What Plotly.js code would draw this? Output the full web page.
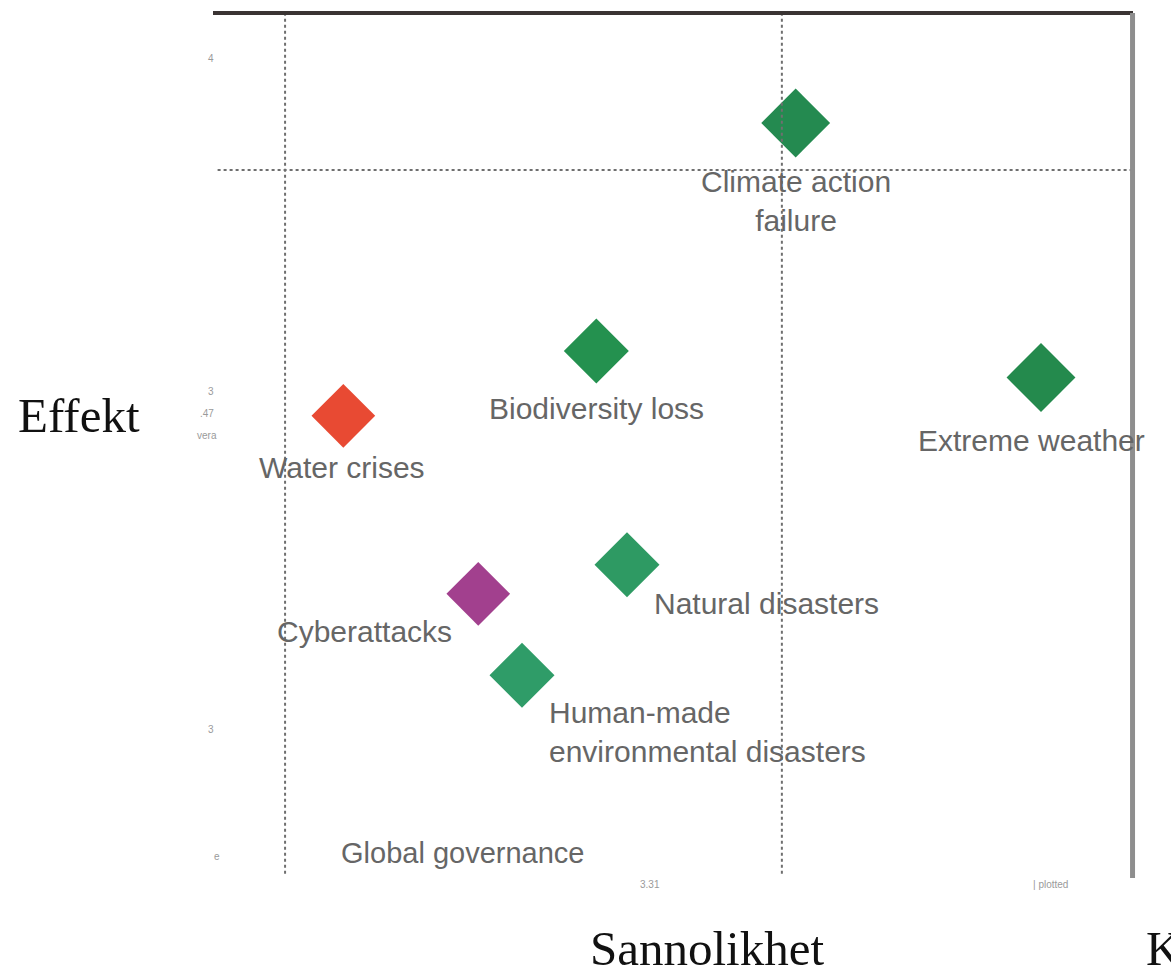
<!DOCTYPE html>
<html>
<head>
<meta charset="utf-8">
<script src="https://cdn.plot.ly/plotly-3.0.1.min.js"></script>
<style>
  html, body { margin: 0; padding: 0; background: #ffffff; }
  #chart { width: 1171px; height: 971px; }
</style>
</head>
<body>
<div id="chart"></div>
<script>
// ---- Data ----
const risks = [
  "Climate action failure",
  "Biodiversity loss",
  "Extreme weather",
  "Water crises",
  "Natural disasters",
  "Cyberattacks",
  "Human-made environmental disasters"
];
const likelihood = [3.76, 3.50, 4.08, 3.17, 3.54, 3.346, 3.403];
const impact     = [4.022, 3.653, 3.61, 3.548, 3.307, 3.26, 3.128];
const riskLabels = [
  "Climate action<br>failure",
  "Biodiversity loss",
  "Extreme weather",
  "Water crises",
  "Natural disasters",
  "Cyberattacks",
  "Human-made<br>environmental disasters"
];
const riskColors = ["#248a50", "#24914f", "#248a4d", "#e84a33", "#2e9a63", "#a2408e", "#2f9c68"];

const extraLabel = "Global governance";
const extraLikelihood = 3.167;
const extraImpact = 2.84;

const likelihoodAverages = [3.094, 3.742];
const impactAverage = 3.946;

// label placement (pixel offsets from marker centre)
const labelPlace = [
  {xa: "center", dx: 0,    dy: -78},
  {xa: "center", dx: 0,    dy: -58},
  {xa: "left",   dx: -125, dy: -63},
  {xa: "center", dx: -1,   dy: -52},
  {xa: "left",   dx: 25,   dy: -39},
  {xa: "center", dx: -114, dy: -38},
  {xa: "left",   dx: 25,   dy: -57}
];

const sizes = [53, 50, 53, 49, 50, 49, 50];

const trace = {
  type: "scatter",
  mode: "markers",
  x: likelihood,
  y: impact,
  text: risks,
  hoverinfo: "text",
  marker: { symbol: "diamond", size: sizes, color: riskColors, opacity: 1, line: { width: 0 } },
  opacity: 1,
  showlegend: false
};

const labelFont = { family: "Liberation Sans, Arial, sans-serif", size: 30, color: "#666666" };
const fragFont = { family: "Liberation Sans, Arial, sans-serif", size: 10, color: "#9a9a9a" };

const annotations = riskLabels.map((t, i) => ({
  x: likelihood[i], y: impact[i], xref: "x", yref: "y",
  text: t, showarrow: false,
  xanchor: labelPlace[i].xa, yanchor: "middle",
  xshift: labelPlace[i].dx, yshift: labelPlace[i].dy,
  font: labelFont, align: labelPlace[i].xa === "left" ? "left" : "center"
}));

annotations.push({
  x: extraLikelihood, y: extraImpact, xref: "x", yref: "y",
  text: extraLabel, showarrow: false, xanchor: "left", yanchor: "middle",
  xshift: -2,
  font: { family: labelFont.family, size: 29, color: labelFont.color }
});

// axis titles (horizontal, serif)
const titleFont = { family: "Liberation Serif, Times New Roman, serif", size: 49, color: "#111111" };
annotations.push({
  xref: "paper", yref: "paper", x: -0.1457, y: 0.535, xanchor: "center", yanchor: "middle",
  text: "Effekt", showarrow: false, font: titleFont
});
annotations.push({
  xref: "paper", yref: "paper", x: 0.537, y: -0.081, xanchor: "center", yanchor: "middle",
  text: "Sannolikhet", showarrow: false, font: titleFont, borderpad: 0
});
annotations.push({
  xref: "paper", yref: "paper", x: 1.013, y: -0.081, xanchor: "left", yanchor: "middle",
  text: "K", showarrow: false, font: titleFont, borderpad: 0
});

// faint fragments of the source graphic
const fragments = [
  {x: -0.002, y: 0.947, t: "4"},
  {x: -0.002, y: 0.563, t: "3"},
  {x: -0.006, y: 0.537, t: ".47"},
  {x: -0.006, y: 0.511, t: "vera"},
  {x: -0.002, y: 0.172, t: "3"},
  {x: 0.004, y: 0.025, t: "e"},
  {x: 0.475, y: -0.008, t: "3.31"},
  {x: 0.91, y: -0.008, t: "| plotted"}
];
fragments.forEach(f => annotations.push({
  xref: "paper", yref: "paper", x: f.x, y: f.y, xanchor: "center", yanchor: "middle",
  text: f.t, showarrow: false, font: fragFont
}));

const shapes = [];
likelihoodAverages.forEach(v => shapes.push({
  type: "line", xref: "x", yref: "paper", x0: v, x1: v, y0: 0.005, y1: 1,
  line: { color: "#6f6f6f", width: 2, dash: "dot" }
}));
shapes.push({
  type: "line", xref: "paper", yref: "y", x0: 0.005, x1: 1, y0: impactAverage, y1: impactAverage,
  line: { color: "#6f6f6f", width: 2, dash: "dot" }
});
// frame: thick top line and grey right edge
shapes.push({
  type: "line", xref: "paper", yref: "paper", x0: 0, x1: 1, y0: 1, y1: 1,
  line: { color: "#3a3433", width: 4 }
});
shapes.push({
  type: "line", xref: "paper", yref: "paper", x0: 0.9995, x1: 0.9995, y0: 0, y1: 1,
  line: { color: "#8e8e8e", width: 5 }
});

const layout = {
  width: 1171, height: 971,
  margin: { l: 213, r: 38, t: 13, b: 93 },
  paper_bgcolor: "#ffffff", plot_bgcolor: "#ffffff",
  xaxis: { range: [3.0, 4.2], visible: false, fixedrange: true },
  yaxis: { range: [2.8, 4.2], visible: false, fixedrange: true },
  shapes: shapes,
  annotations: annotations,
  showlegend: false
};

Plotly.newPlot("chart", [trace], layout, { displayModeBar: false, staticPlot: true });
</script>
</body>
</html>
